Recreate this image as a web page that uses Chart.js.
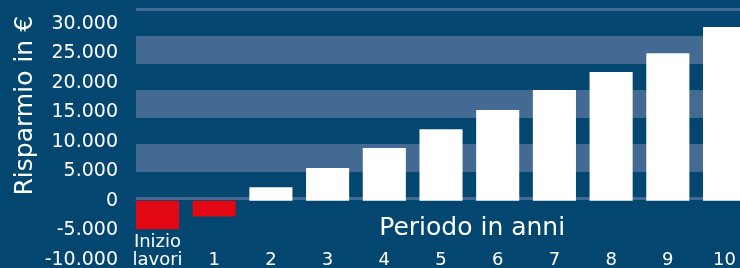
<!DOCTYPE html>
<html>
<head>
<meta charset="utf-8">
<script src="https://cdn.jsdelivr.net/npm/chart.js@4.4.1/dist/chart.umd.min.js"></script>
<style>
  html, body { margin: 0; padding: 0; background: #03466f; overflow: hidden; }
  #wrap { width: 740px; height: 268px; position: relative; }
</style>
</head>
<body>
<div id="wrap"><canvas id="savingsChart"></canvas></div>
<script>
// Data
const periodLabels = [['Inizio', 'lavori'], '1', '2', '3', '4', '5', '6', '7', '8', '9', '10'];
const savings = [-4850, -2700, 2300, 5550, 8950, 12150, 15400, 18800, 21850, 25050, 29500];
const yTicks = [-10000, -5000, 0, 5000, 10000, 15000, 20000, 25000, 30000];
const yTitle = 'Risparmio in € ';
const xTitle = 'Periodo in anni';

const bgBlue = '#03466f';
const bandBlue = '#436a92';
const red = '#e30613';
const white = '#ffffff';

Chart.defaults.font.family = '"DejaVu Sans", sans-serif';
Chart.defaults.color = white;

// thousands with a dot, like 30.000
function formatEuro(v) {
    return String(v).replace(/\B(?=(\d{3})+(?!\d))/g, '.');
}

// draws the x axis title between the zero line and the tick labels
const xTitlePlugin = {
    id: 'xTitle',
    afterDraw(chart) {
        const { ctx, scales } = chart;
        ctx.save();
        ctx.font = '25px "DejaVu Sans"';
        ctx.fillStyle = white;
        ctx.textAlign = 'center';
        ctx.textBaseline = 'alphabetic';
        ctx.fillText(xTitle, scales.x.getPixelForValue(5.55), scales.y.getPixelForValue(0) + 34);
        ctx.restore();
    }
};

const ctx = document.getElementById('savingsChart').getContext('2d');

new Chart(ctx, {
    type: 'bar',
    data: {
        datasets: [
            {
                label: 'Risparmio',
                data: savings.map((v, i) => ({ x: i, y: v })),
                backgroundColor: savings.map(v => (v < 0 ? red : white)),
                borderWidth: 0,
                barPercentage: 0.76,
                categoryPercentage: 1,
            },
        ],
    },
    plugins: [xTitlePlugin],
    options: {
        responsive: true,
        maintainAspectRatio: false,
        animation: false,
        layout: { padding: { top: 8, right: 0, bottom: 0, left: 0 } },
        plugins: {
            legend: { display: false },
            tooltip: { enabled: false },
        },
        scales: {
            x: {
                type: 'linear',
                position: { y: 0 },
                offset: false,
                min: -0.379,
                max: 10.273,
                grid: { display: false, drawTicks: false, offset: false },
                border: { display: false },
                afterBuildTicks: (axis) => {
                    axis.ticks = periodLabels.map((_, i) => ({ value: i }));
                },
                afterFit: (axis) => {
                    axis.paddingLeft = 0;
                    axis.paddingRight = 0;
                },
                ticks: {
                    autoSkip: false,
                    maxRotation: 0,
                    crossAlign: 'far',
                    padding: 42,
                    font: { size: 18, lineHeight: '18px' },
                    callback: (value) => periodLabels[value],
                },
            },
            y: {
                position: 'left',
                min: -11426,
                max: 32716,
                grid: { display: false, drawTicks: false },
                border: { display: false },
                afterBuildTicks: (axis) => {
                    axis.ticks = yTicks.map(v => ({ value: v }));
                },
                afterFit: (axis) => {
                    axis.width = 136;
                    axis.paddingTop = 0;
                    axis.paddingBottom = 0;
                },
                ticks: {
                    padding: 18,
                    font: { size: 19 },
                    callback: (value) => formatEuro(value),
                },
                title: {
                    display: true,
                    text: yTitle,
                    align: 'end',
                    font: { size: 25 },
                    padding: { top: 10, bottom: 0 },
                },
            },
            // background stripes
            bands: {
                type: 'linear',
                position: 'right',
                min: -2.556,
                max: 7.074,
                border: { display: false },
                ticks: { display: false },
                afterBuildTicks: (axis) => {
                    axis.ticks = [0, 1.5, 3.5, 5.5, 7].map(v => ({ value: v }));
                },
                afterFit: (axis) => {
                    axis.width = 0;
                    axis.paddingTop = 0;
                    axis.paddingBottom = 0;
                },
                grid: {
                    drawTicks: false,
                    color: bandBlue,
                    lineWidth: (c) => (Number.isInteger(c.tick.value) ? 3 : 28),
                },
            },
        },
    },
});
</script>
</body>
</html>
